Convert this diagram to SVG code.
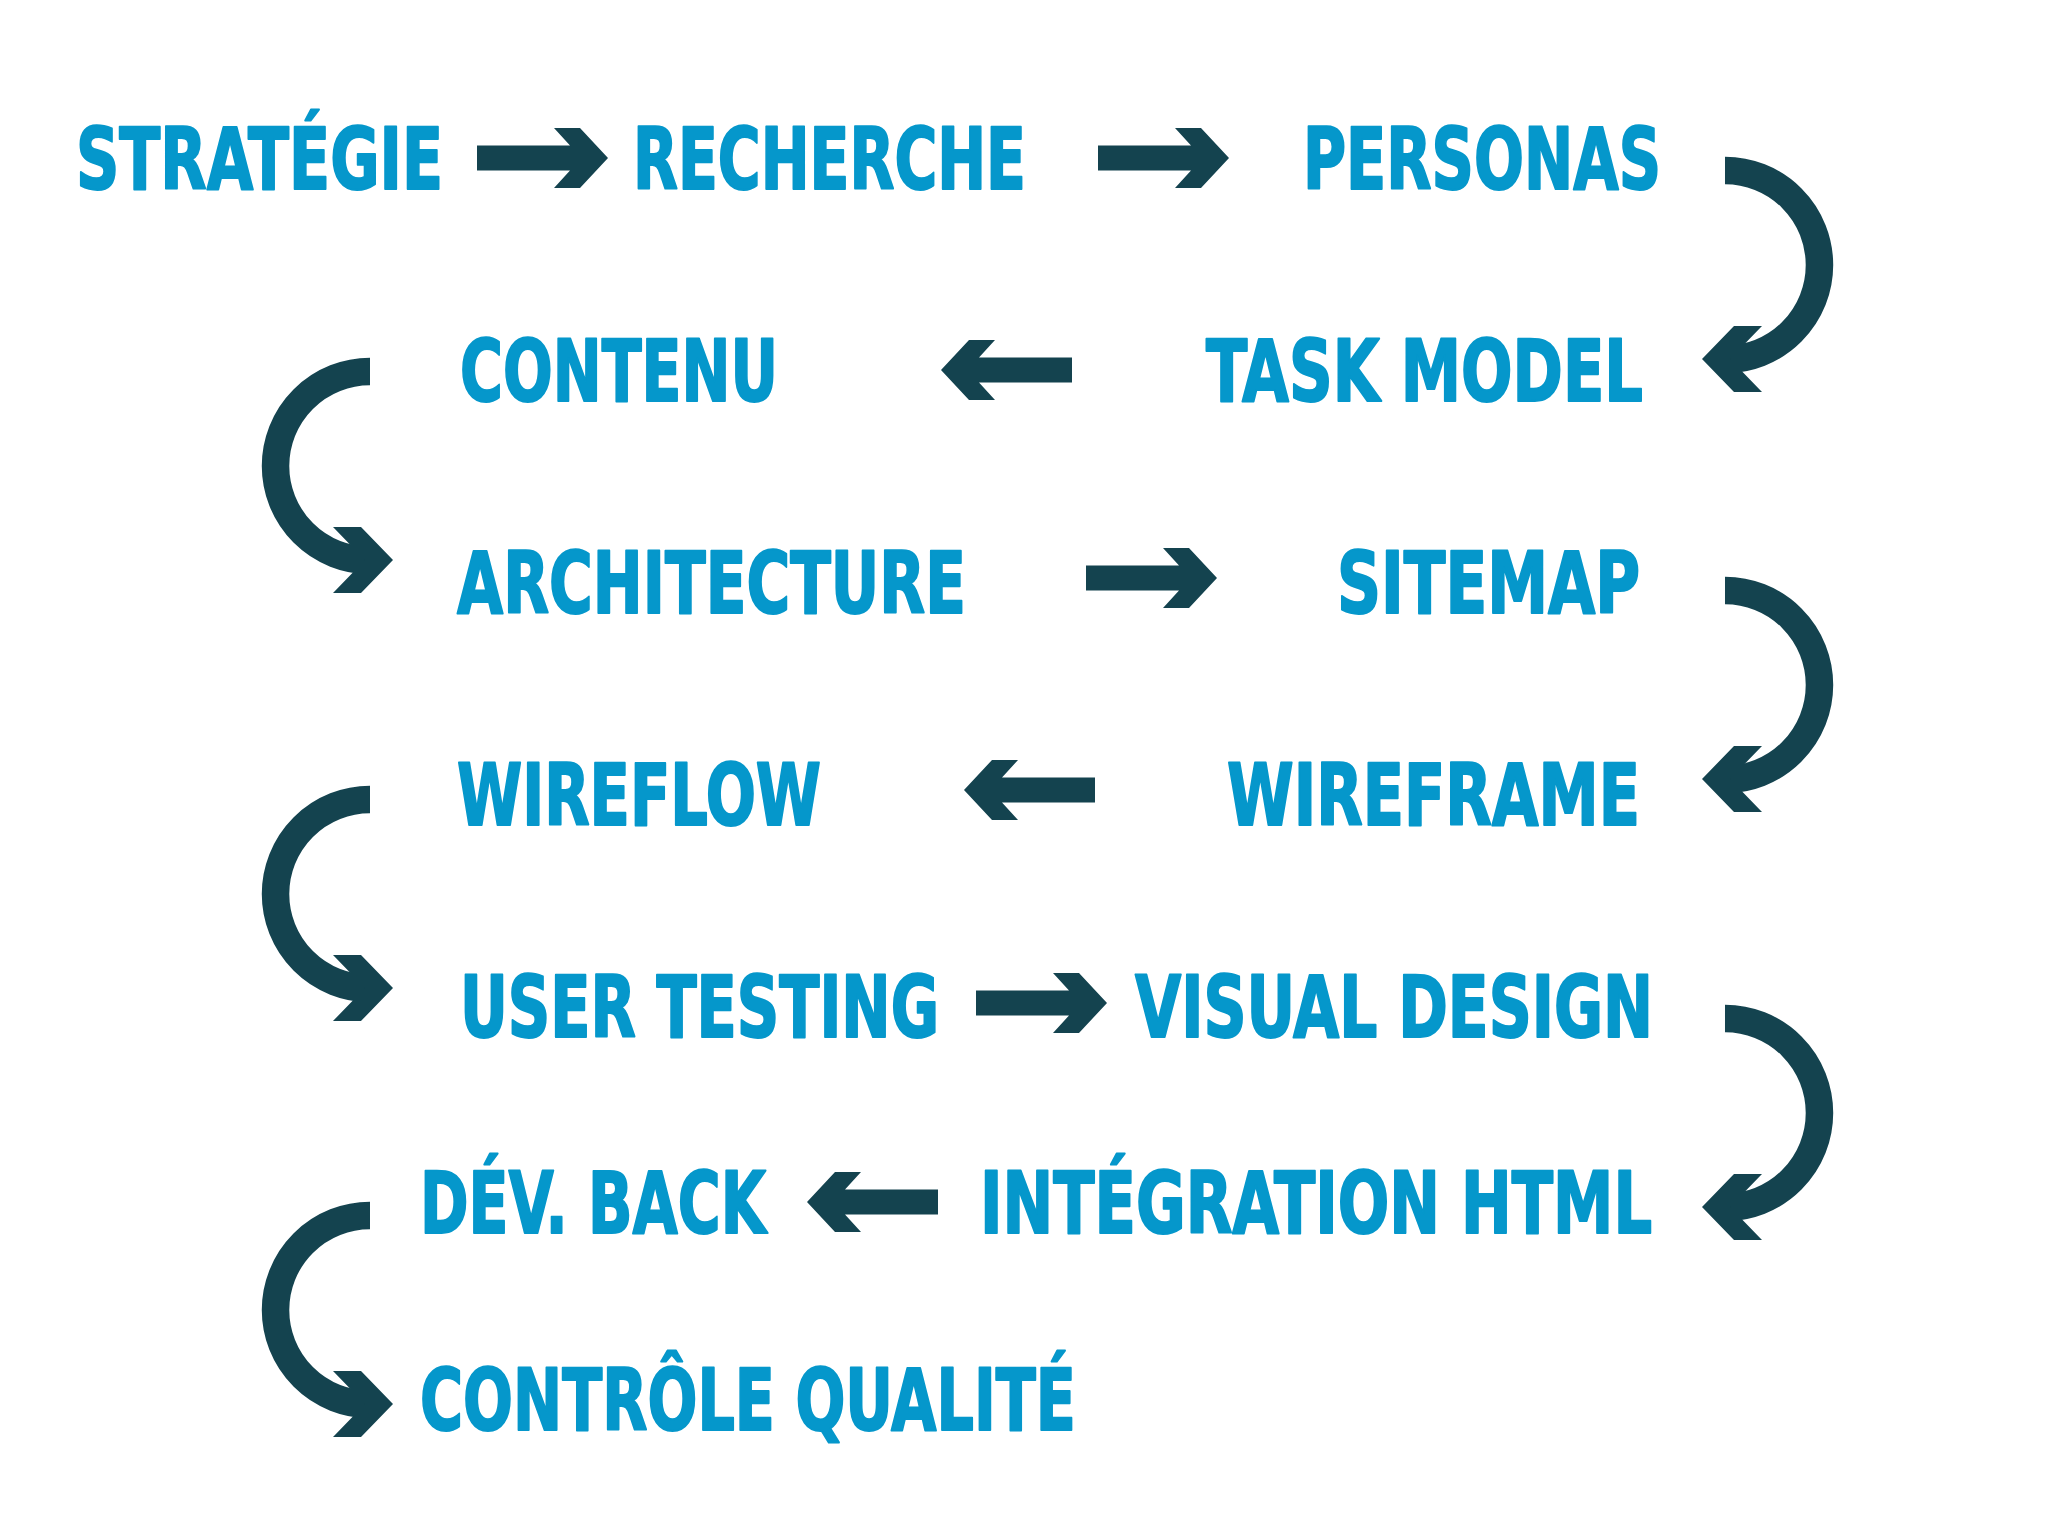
<svg xmlns="http://www.w3.org/2000/svg" width="2048" height="1536" viewBox="0 0 2048 1536">
<style>
.t{font-family:"Liberation Sans Narrow","DejaVu Sans Condensed","Liberation Sans",sans-serif;font-weight:700;font-size:86px;fill:#0597cb;stroke:#0597cb;stroke-width:2;stroke-linejoin:round}
.arc{fill:none;stroke:#14434f;stroke-width:27.5}
.dk{fill:#14434f}
</style>
<defs>
<path id="arr" class="dk" d="M-131,-12.5 H-38 L-54,-30 H-28 L0,0 L-28,30 H-54 L-38,12.5 H-131 Z"/>
<g id="curve">
<path class="arc" d="M0,-94.5 A94.5,94.5 0 0 1 0,94.5"/>
<polygon class="dk" points="-23,94 9,61 37,61 5,94 37,127 9,127"/>
</g>
</defs>
<rect width="2048" height="1536" fill="#ffffff"/>
<g id="connectors">
<use href="#arr" transform="translate(608,158)"/>
<use href="#arr" transform="translate(1229,158)"/>
<use href="#curve" transform="translate(1725,265)"/>
<use href="#arr" transform="translate(941,370) scale(-1,1)"/>
<use href="#curve" transform="translate(370,466) scale(-1,1)"/>
<use href="#arr" transform="translate(1217,578)"/>
<use href="#curve" transform="translate(1725,685)"/>
<use href="#arr" transform="translate(964,790) scale(-1,1)"/>
<use href="#curve" transform="translate(370,894) scale(-1,1)"/>
<use href="#arr" transform="translate(1107,1003)"/>
<use href="#curve" transform="translate(1725,1113)"/>
<use href="#arr" transform="translate(807,1202) scale(-1,1)"/>
<use href="#curve" transform="translate(370,1310) scale(-1,1)"/>
</g>
<g id="strategie"><text class="t" x="76" y="189" textLength="367" lengthAdjust="spacingAndGlyphs">STRATÉGIE</text></g>
<g id="recherche"><text class="t" x="633" y="189" textLength="393" lengthAdjust="spacingAndGlyphs">RECHERCHE</text></g>
<g id="personas"><text class="t" x="1303" y="189" textLength="358" lengthAdjust="spacingAndGlyphs">PERSONAS</text></g>
<g id="task-model"><text class="t" x="1206" y="401" textLength="437" lengthAdjust="spacingAndGlyphs">TASK MODEL</text></g>
<g id="contenu"><text class="t" x="460" y="401" textLength="318" lengthAdjust="spacingAndGlyphs">CONTENU</text></g>
<g id="architecture"><text class="t" x="457" y="613" textLength="509" lengthAdjust="spacingAndGlyphs">ARCHITECTURE</text></g>
<g id="sitemap"><text class="t" x="1337" y="613" textLength="303" lengthAdjust="spacingAndGlyphs">SITEMAP</text></g>
<g id="wireframe"><text class="t" x="1227" y="825" textLength="413" lengthAdjust="spacingAndGlyphs">WIREFRAME</text></g>
<g id="wireflow"><text class="t" x="457" y="825" textLength="364" lengthAdjust="spacingAndGlyphs">WIREFLOW</text></g>
<g id="user-testing"><text class="t" x="460" y="1037" textLength="479" lengthAdjust="spacingAndGlyphs">USER TESTING</text></g>
<g id="visual-design"><text class="t" x="1135" y="1037" textLength="518" lengthAdjust="spacingAndGlyphs">VISUAL DESIGN</text></g>
<g id="integration-html"><text class="t" x="980" y="1233" textLength="672" lengthAdjust="spacingAndGlyphs">INTÉGRATION HTML</text></g>
<g id="dev-back"><text class="t" x="420" y="1233" textLength="346" lengthAdjust="spacingAndGlyphs">DÉV. BACK</text></g>
<g id="controle-qualite"><text class="t" x="420" y="1430" textLength="656" lengthAdjust="spacingAndGlyphs">CONTRÔLE QUALITÉ</text></g>
</svg>
